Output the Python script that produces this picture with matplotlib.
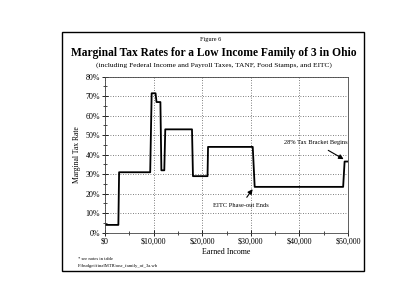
import matplotlib.pyplot as plt
from matplotlib.patches import Rectangle
from matplotlib.ticker import FuncFormatter, MultipleLocator

plt.rcParams['font.family'] = ['Liberation Serif', 'DejaVu Serif']

# step outline of the marginal rate curve
income = [0, 2750, 2900, 9300, 9600, 10400, 10600, 11400, 11600, 12200, 12400,
          17900, 18100, 21100, 21200, 30400, 30800, 49000, 49300, 50000]
rate = [4, 4, 31, 31, 71.5, 71.5, 67, 67, 32, 32, 53,
        53, 29, 29, 44, 44, 23.5, 23.5, 36.5, 36.5]

x_ticks = [0, 10000, 20000, 30000, 40000, 50000]
y_ticks = [0, 10, 20, 30, 40, 50, 60, 70, 80]

fig = plt.figure(figsize=(4, 3.07), dpi=100)
fig.patch.set_facecolor('white')

# outer frame around the whole figure panel
fig.patches.append(Rectangle((62 / 400, 1 - 271 / 307), 302 / 400, 239 / 307,
                             transform=fig.transFigure, fill=False,
                             edgecolor='black', linewidth=1.0))

ax = fig.add_axes([105 / 400, 1 - 232.7 / 307, 243 / 400, 156 / 307])
ax.plot(income, rate, color='black', linewidth=1.3)

ax.set_xlim(0, 50000)
ax.set_ylim(0, 80)
ax.set_xticks(x_ticks)
ax.set_yticks(y_ticks)
ax.xaxis.set_minor_locator(MultipleLocator(5000))
ax.yaxis.set_minor_locator(MultipleLocator(5))
ax.xaxis.set_major_formatter(FuncFormatter(lambda v, p: '${:,.0f}'.format(v)))
ax.yaxis.set_major_formatter(FuncFormatter(lambda v, p: '{:.0f}%'.format(v)))
ax.tick_params(which='both', direction='inout', top=False, right=False)
ax.tick_params(labelsize=5.8, length=4, width=0.6, pad=1.5)
ax.tick_params(which='minor', length=3, width=0.5)
ax.grid(True, which='major', linestyle=(0, (1, 2)), color='#555555', linewidth=0.6)
for s in ax.spines.values():
    s.set_linewidth(0.6)
    s.set_color('#444444')

ax.set_xlabel('Earned Income', fontsize=5.8, labelpad=1.5)
ax.set_ylabel('Marginal Tax Rate', fontsize=5.5, labelpad=3)

ax.annotate('28% Tax Bracket Begins', xy=(49600, 37), xytext=(43300, 46),
            fontsize=4.6, ha='center', va='center',
            arrowprops=dict(arrowstyle='-|>', color='black', lw=0.8, mutation_scale=7,
                            shrinkA=3))
ax.annotate('EITC Phase-out Ends', xy=(30700, 23.5), xytext=(27900, 13.7),
            fontsize=4.6, ha='center', va='center',
            arrowprops=dict(arrowstyle='-|>', color='black', lw=0.8, mutation_scale=7,
                            shrinkA=3))

fig.text(211 / 400, 1 - 39 / 307, 'Figure 6', fontsize=4.5, ha='center', va='center')
fig.text(214 / 400, 1 - 53 / 307, 'Marginal Tax Rates for a Low Income Family of 3 in Ohio',
         fontsize=8.3, fontweight='bold', ha='center', va='center')
fig.text(214 / 400, 1 - 65 / 307,
         '(including Federal Income and Payroll Taxes, TANF, Food Stamps, and EITC)',
         fontsize=5.4, ha='center', va='center')
fig.text(78 / 400, 1 - 259 / 307, '* see notes in table', fontsize=3.3, ha='left', va='center')
fig.text(78 / 400, 1 - 266 / 307, 'F:\\budget\\finalMTR\\one_family_of_3a.wb',
         fontsize=3.3, ha='left', va='center')

fig.savefig('out.png', dpi=100)
